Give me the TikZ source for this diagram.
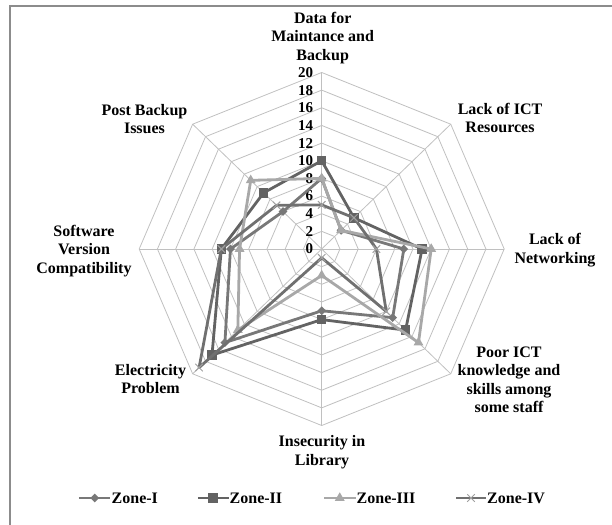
\documentclass[tikz,border=0pt]{standalone}
\usepackage{fontspec}
\setmainfont{Liberation Serif}
\usepackage{tikz}
\usetikzlibrary{calc,shapes.geometric,shapes.misc}
\definecolor{gridgray}{HTML}{C0C0C0}
\definecolor{framegray}{HTML}{8C8C8C}
\definecolor{zoneonecol}{HTML}{787878}
\definecolor{zonetwocol}{HTML}{636363}
\definecolor{zonethreecol}{HTML}{A8A8A8}
\definecolor{zonefourcol}{HTML}{707070}
\definecolor{zonefourmk}{HTML}{A0A0A0}
\newcommand\labelfont{\bfseries\fontsize{16}{18.5}\selectfont}
\newcommand\tickfont{\bfseries\fontsize{15}{15}\selectfont}

\begin{document}
\begin{tikzpicture}[x=9.125pt, y=8.825pt,
    grid/.style={draw=gridgray, line width=0.8pt},
    series/.style={line width=2.8pt, line join=round},
    lbl/.style={font=\labelfont, align=center, inner sep=0pt},
    tick/.style={font=\tickfont, anchor=east, inner sep=0pt},
    mkI/.style={diamond, fill=zoneonecol, inner sep=0pt, minimum size=9pt},
    mkII/.style={rectangle, fill=zonetwocol, inner sep=0pt, minimum size=9.5pt},
    mkIII/.style={regular polygon, regular polygon sides=3, fill=zonethreecol, inner sep=0pt, minimum size=11.5pt},
    mkIV/.style={cross out, draw=zonefourmk, line width=1pt, inner sep=0pt, minimum size=6.5pt}]
    \path[use as bounding box] (-321.7pt, 249pt) rectangle (290.3pt, -275pt);
    \draw[framegray, line width=1.2pt] (-311.7pt, -276pt) -- (-311.7pt, 243pt) -- (291pt, 243pt);
    % rings and spokes
    \foreach \r in {2,4,...,20}
        \draw[grid] (90:\r) -- (45:\r) -- (0:\r) -- (-45:\r) -- (-90:\r) -- (-135:\r) -- (180:\r) -- (135:\r) -- cycle;
    \foreach \a in {0,45,...,315}
        \draw[grid] (0,0) -- (\a:20);
    \foreach \v in {0,2,...,20}
        \node[tick] (t\v) at ([xshift=-8.5pt]0,\v) {\v};
    % category labels
    \node[lbl] (data) at (1pt, 211pt) {Data for\\Maintance and\\Backup};
    \node[lbl] (res) at (178.3pt, 131pt) {Lack of ICT\\Resources};
    \node[lbl] (net) at (233.3pt, -1pt) {Lack of\\Networking};
    \node[lbl] (poor) at (187.3pt, -131pt) {Poor ICT\\knowledge and\\skills among\\some staff};
    \node[lbl] (insec) at (0.3pt, -203pt) {Insecurity in\\Library};
    \node[lbl] (elec) at (-171.2pt, -130pt) {Electricity\\Problem};
    \node[lbl] (soft) at (-237.7pt, -2pt) {Software\\Version\\Compatibility};
    \node[lbl] (post) at (-177.2pt, 130pt) {Post Backup\\Issues};
    % Zone-I
    \foreach \v [count=\i from 0] in {8,3,9,11,7,15,10,6}
        \coordinate (a\i) at ({90-45*\i}:\v);
    \draw[series, zoneonecol] (a0) -- (a1) -- (a2) -- (a3) -- (a4) -- (a5) -- (a6) -- (a7) -- cycle;
    \foreach \i in {0,...,7}
        \node[mkI] at (a\i) {};
    % Zone-II
    \foreach \v [count=\i from 0] in {10,5,11,13,8,17,11,9}
        \coordinate (b\i) at ({90-45*\i}:\v);
    \draw[series, zonetwocol] (b0) -- (b1) -- (b2) -- (b3) -- (b4) -- (b5) -- (b6) -- (b7) -- cycle;
    \foreach \i in {0,...,7}
        \node[mkII] at (b\i) {};
    % Zone-III
    \foreach \v [count=\i from 0] in {8,3,12,15,3,13,9,11}
        \coordinate (c\i) at ({90-45*\i}:\v);
    \draw[series, zonethreecol] (c0) -- (c1) -- (c2) -- (c3) -- (c4) -- (c5) -- (c6) -- (c7) -- cycle;
    \foreach \i in {0,...,7}
        \node[mkIII] at (c\i) {};
    % Zone-IV
    \foreach \v [count=\i from 0] in {5,5,6,10,1,19,11,7}
        \coordinate (d\i) at ({90-45*\i}:\v);
    \draw[series, zonefourcol] (d0) -- (d1) -- (d2) -- (d3) -- (d4) -- (d5) -- (d6) -- (d7) -- cycle;
    \foreach \i in {0,...,7}
        \node[mkIV] at (d\i) {};
    % legend
    \coordinate (l1a) at (-242.7pt, -249pt);
    \coordinate (l1b) at (-211.2pt, -249pt);
    \draw[series, zoneonecol] (l1a) -- (l1b);
    \node[mkI] (m1) at ($(l1a)!0.5!(l1b)$) {};
    \node[lbl, anchor=west] (z1) at ([xshift=1pt]l1b) {Zone-I};
    \coordinate (l2a) at (-123.7pt, -249pt);
    \coordinate (l2b) at (-93.2pt, -249pt);
    \draw[series, zonetwocol] (l2a) -- (l2b);
    \node[mkII] (m2) at ($(l2a)!0.5!(l2b)$) {};
    \node[lbl, anchor=west] (z2) at ([xshift=1pt]l2b) {Zone-II};
    \coordinate (l3a) at (2.3pt, -249pt);
    \coordinate (l3b) at (33.8pt, -249pt);
    \draw[series, zonethreecol] (l3a) -- (l3b);
    \node[mkIII] (m3) at ($(l3a)!0.5!(l3b)$) {};
    \node[lbl, anchor=west] (z3) at ([xshift=1pt]l3b) {Zone-III};
    \coordinate (l4a) at (134.3pt, -249pt);
    \coordinate (l4b) at (164.3pt, -249pt);
    \draw[series, zonefourcol] (l4a) -- (l4b);
    \node[mkIV] (m4) at ($(l4a)!0.5!(l4b)$) {};
    \node[lbl, anchor=west] (z4) at ([xshift=1pt]l4b) {Zone-IV};
\end{tikzpicture}
\end{document}
